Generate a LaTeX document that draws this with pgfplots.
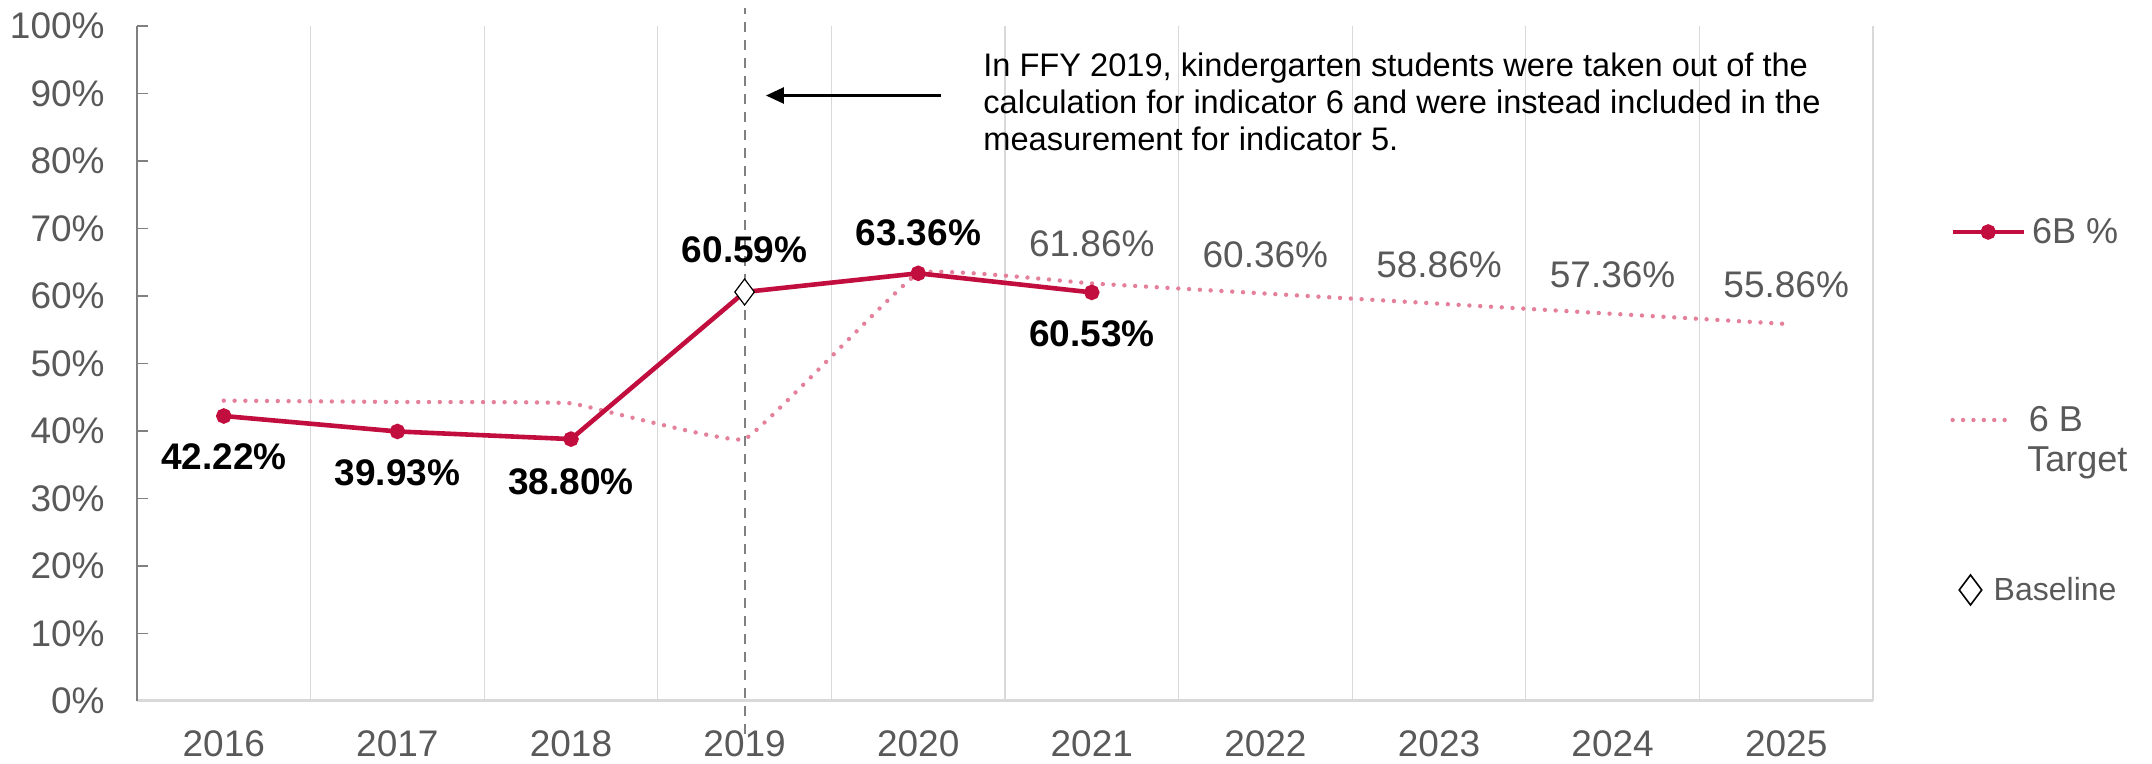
\documentclass[border=0pt]{standalone}
\usepackage{pgfplots}
\pgfplotsset{compat=1.18}
\usepackage{fontspec}
\setmainfont{Liberation Sans}
\usetikzlibrary{arrows.meta}

\definecolor{crim}{HTML}{C20E3E}
\definecolor{tpink}{HTML}{E5809B}
\definecolor{txtgray}{HTML}{595959}
\definecolor{gridgray}{HTML}{D9D9D9}
\definecolor{axgray}{HTML}{808080}

\tikzset{
  lblb/.style={font=\bfseries\fontsize{18.5}{20}\selectfont, text=black, inner sep=0pt},
  lblt/.style={font=\fontsize{18.5}{20}\selectfont, text=txtgray, inner sep=0pt},
}

\begin{document}
\begin{tikzpicture}
\useasboundingbox (0,0) rectangle (1076pt,382pt);

\begin{axis}[
  at={(68.5pt,31.5pt)}, anchor=south west,
  scale only axis, width=868pt, height=337.5pt,
  xmin=-0.5, xmax=9.5, ymin=0, ymax=100,
  clip=false,
  axis x line*=bottom, axis y line*=left,
  separate axis lines,
  x axis line style={gridgray, line width=1.5pt},
  y axis line style={axgray, line width=0.6pt},
  xtick={0,...,9},
  xticklabels={2016,2017,2018,2019,2020,2021,2022,2023,2024,2025},
  major x tick style={draw=none},
  minor xtick={0.5,1.5,...,9.5},
  xminorgrids,
  minor x grid style={gridgray, line width=0.6pt},
  minor x tick style={draw=none},
  xticklabel style={anchor=center, yshift=-21.5pt, font=\fontsize{18.5}{20}\selectfont, text=txtgray},
  ytick={0,10,...,100},
  yticklabels={0\%,10\%,20\%,30\%,40\%,50\%,60\%,70\%,80\%,90\%,100\%},
  ytick style={axgray, line width=0.6pt},
  tick align=inside,
  major tick length=5.5pt,
  yticklabel style={anchor=east, inner sep=0pt, xshift=-16pt, font=\fontsize{18.5}{20}\selectfont, text=txtgray},
  legend style={at={(1.04435,0.69481)}, anchor=west, draw=none, fill=none,
    inner sep=0pt, column sep=3pt, nodes={inner sep=0pt},
    font=\fontsize{18}{20}\selectfont, text=txtgray},
  legend image code/.code={\draw[mark repeat=2, mark phase=2, #1]
    plot coordinates {(0pt,0pt) (17.75pt,0pt) (35.5pt,0pt)};},
]
% 6 B target
\addplot[tpink, line width=2.2pt, line cap=round, dash pattern=on 0pt off 5.4pt,
  smooth, tension=0.15, forget plot] coordinates {
  (0,44.5) (1,44.3) (2,44.1) (3,38.8) (4,63.36) (5,61.86)
  (6,60.36) (7,58.86) (8,57.36) (9,55.86)};
% 6B %
\addplot[crim, line width=2.3pt, mark=*, mark size=2.7pt, mark options={solid}] coordinates {
  (0,42.22) (1,39.93) (2,38.80) (3,60.59) (4,63.36) (5,60.53)};
\addlegendentry{6B \%}
% baseline
\addplot[only marks, mark=diamond*, mark size=6.5pt, draw=black, fill=white,
  line width=0.6pt, forget plot] coordinates {(3,60.59)};
% FFY 2019 divider
\addplot[axgray, line width=1pt, dash pattern=on 5pt off 4pt, forget plot]
  coordinates {(3,-4.9) (3,102.7)};

\node[lblb] at (axis cs:0,36.2) {42.22\%};
\node[lblb] at (axis cs:1,33.8) {39.93\%};
\node[lblb] at (axis cs:2,32.5) {38.80\%};
\node[lblb] at (axis cs:3,66.8) {60.59\%};
\node[lblb] at (axis cs:4,69.3) {63.36\%};
\node[lblb] at (axis cs:5,54.4) {60.53\%};

\node[lblt] at (axis cs:5,67.7) {61.86\%};
\node[lblt] at (axis cs:6,66.1) {60.36\%};
\node[lblt] at (axis cs:7,64.6) {58.86\%};
\node[lblt] at (axis cs:8,63.1) {57.36\%};
\node[lblt] at (axis cs:9,61.6) {55.86\%};

\draw[-{Triangle[length=9pt,width=8pt]}, line width=1.3pt]
  (axis cs:4.131,89.7) -- (axis cs:3.123,89.7);
\node[anchor=west, align=left, inner sep=0pt, font=\fontsize{16.3}{18.5}\selectfont]
  at (axis cs:4.373,88.8)
  {In FFY 2019, kindergarten students were taken out of the\\
   calculation for indicator 6 and were instead included in the\\
   measurement for indicator 5.};
\end{axis}

% legend for the target series
\begin{axis}[
  at={(68.5pt,31.5pt)}, anchor=south west,
  scale only axis, width=868pt, height=337.5pt,
  xmin=0, xmax=1, ymin=0, ymax=1, hide axis,
  legend style={at={(1.04435,0.41630)}, anchor=west, draw=none, fill=none,
    inner sep=0pt, column sep=6pt, nodes={inner sep=0pt},
    font=\fontsize{18}{20}\selectfont, text=txtgray},
  legend image code/.code={\draw[#1] (0pt,0pt) -- (31pt,0pt);},
]
\addlegendimage{tpink, line width=2.2pt, line cap=round, dash pattern=on 0pt off 5.2pt}
\addlegendentry{6 B}
\end{axis}

% legend for the baseline marker
\begin{axis}[
  at={(68.5pt,31.5pt)}, anchor=south west,
  scale only axis, width=868pt, height=337.5pt,
  xmin=0, xmax=1, ymin=0, ymax=1, hide axis,
  legend style={at={(1.04942,0.16444)}, anchor=west, draw=none, fill=none,
    inner sep=0pt, column sep=6pt, nodes={inner sep=0pt},
    font=\fontsize{16}{18}\selectfont, text=txtgray},
]
\addlegendimage{only marks, mark=diamond, mark size=7.5pt, black, line width=0.8pt}
\addlegendentry{Baseline}
\end{axis}

\node[anchor=west, inner sep=0pt, text=txtgray, font=\fontsize{18}{20}\selectfont]
  at (1013.5pt,150.5pt) {Target};
\end{tikzpicture}
\end{document}
